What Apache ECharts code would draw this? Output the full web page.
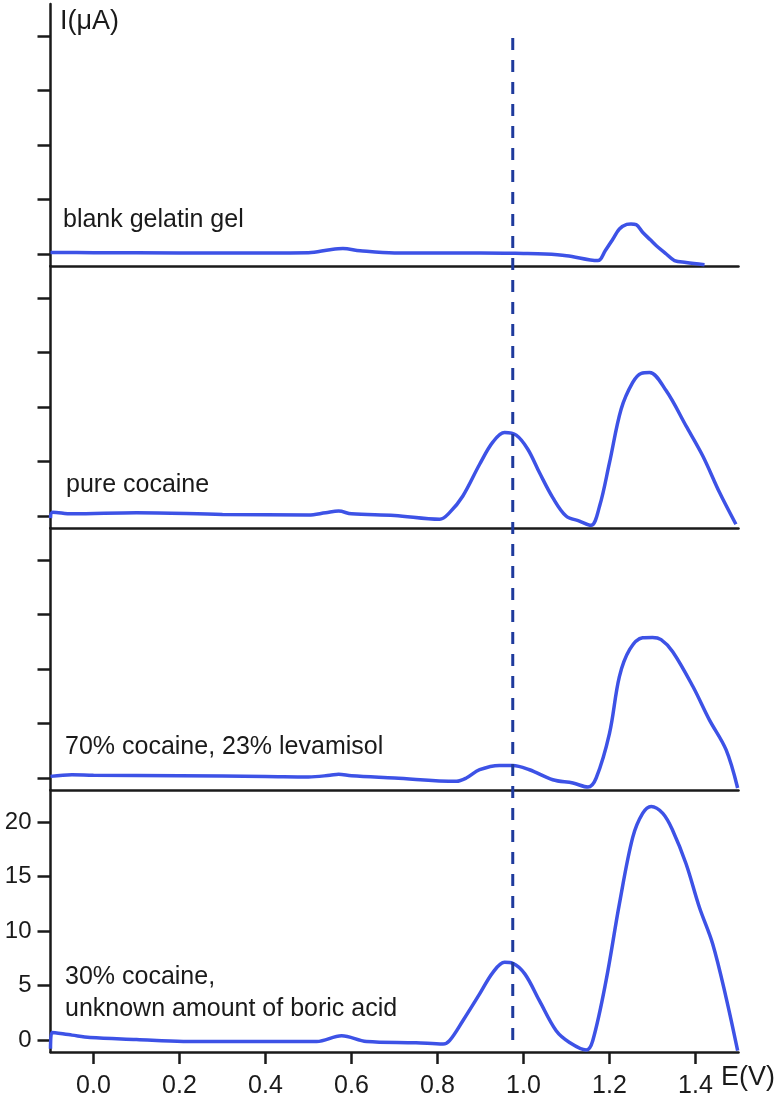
<!DOCTYPE html>
<html>
<head>
<meta charset="utf-8">
<script src="https://cdn.jsdelivr.net/npm/echarts@6/dist/echarts.min.js"></script>
<style>
html,body{margin:0;padding:0;background:#fff;}
#chart{width:784px;height:1105px;}
</style>
</head>
<body>
<div id="chart"></div>
<script>
// ---- data ----
var panelLabels = [["blank gelatin gel"], ["pure cocaine"], ["70% cocaine, 23% levamisol"], ["30% cocaine,", "unknown amount of boric acid"]];
var xTicks = [0.0, 0.2, 0.4, 0.6, 0.8, 1.0, 1.2, 1.4];
var yTicks = [0, 5, 10, 15, 20];

var blankE = [-0.1, 0.0, 0.2, 0.4, 0.5, 0.55, 0.58, 0.62, 0.7, 0.9, 1.0, 1.05, 1.1, 1.173, 1.19, 1.208, 1.223, 1.24, 1.25, 1.262, 1.277, 1.295, 1.309, 1.332, 1.351, 1.378, 1.421];
var blankI = [0.15, 0.12, 0.1, 0.1, 0.12, 0.4, 0.5, 0.3, 0.1, 0.1, 0.05, 0.0, -0.15, -0.6, 0.3, 1.38, 2.3, 2.72, 2.76, 2.7, 2.0, 1.3, 0.76, 0.0, -0.6, -0.77, -0.98];

var pureE = [-0.1, -0.095, -0.05, 0.1, 0.3, 0.5, 0.54, 0.57, 0.6, 0.7, 0.805, 0.828, 0.859, 0.898, 0.929, 0.956, 0.983, 1.010, 1.037, 1.068, 1.099, 1.130, 1.157, 1.177, 1.200, 1.227, 1.254, 1.274, 1.293, 1.332, 1.378, 1.417, 1.456, 1.494];
var pureI = [-0.2, 0.35, 0.2, 0.3, 0.15, 0.1, 0.3, 0.45, 0.2, 0.05, -0.3, 0.31, 1.84, 4.75, 6.8, 7.66, 7.42, 6.13, 3.99, 1.69, 0.0, -0.46, -0.85, 0.92, 4.9, 9.8, 12.26, 13.1, 13.18, 11.49, 8.27, 5.51, 2.15, -0.76];

var levE = [-0.1, -0.05, 0.0, 0.2, 0.4, 0.5, 0.55, 0.57, 0.6, 0.7, 0.844, 0.867, 0.898, 0.944, 0.975, 1.014, 1.068, 1.115, 1.150, 1.169, 1.200, 1.223, 1.247, 1.277, 1.300, 1.320, 1.347, 1.394, 1.432, 1.471, 1.498];
var levI = [0.15, 0.3, 0.25, 0.2, 0.15, 0.1, 0.25, 0.35, 0.2, 0.0, -0.3, 0.0, 0.76, 1.16, 1.16, 0.76, -0.16, -0.46, -0.83, 0.0, 4.1, 9.3, 11.8, 12.87, 12.9, 12.7, 11.6, 8.4, 5.36, 2.6, -0.92];

var boricE = [-0.1, -0.097, -0.05, -0.008, 0.1, 0.209, 0.4, 0.519, 0.577, 0.635, 0.75, 0.813, 0.828, 0.859, 0.898, 0.929, 0.956, 0.975, 1.003, 1.037, 1.076, 1.107, 1.146, 1.161, 1.192, 1.223, 1.254, 1.277, 1.297, 1.324, 1.347, 1.378, 1.409, 1.440, 1.471, 1.498];
var boricI = [-0.8, 0.7, 0.45, 0.24, 0.05, -0.13, -0.13, -0.13, 0.4, -0.13, -0.25, -0.37, -0.06, 1.77, 4.23, 6.21, 7.13, 7.04, 6.07, 3.61, 0.85, -0.22, -0.92, -0.06, 5.45, 12.5, 18.6, 20.8, 21.44, 20.8, 19.24, 16.18, 12.19, 8.82, 3.92, -0.98];

// dashed reference line (E position, and extent in stacked-panel units above bottom zero)
var dashE = 0.975;
var dashSpan = [0, 92.2];

// ---- layout ----
var FONT = "'Liberation Sans', Arial, Helvetica, sans-serif";
var INK = '#1a1a1a';
var CURVE = '#3d52e6';
var xMin = -0.1, xMax = 1.5;
var yMin = -1.1, yMax = 22.95;
var gridLeft = 50.5, gridRight = 45.5;
var panelTop = [4, 266, 528, 790];
var panelH = 262;

function zip(a, b) { return a.map(function (v, i) { return [v, b[i]]; }); }
var curves = [zip(blankE, blankI), zip(pureE, pureI), zip(levE, levI), zip(boricE, boricI)];

var grids = [], xAxes = [], yAxes = [], series = [];
for (var p = 0; p < 4; p++) {
  var last = (p === 3);
  grids.push({ left: gridLeft, right: gridRight, top: panelTop[p], height: panelH, containLabel: false });
  xAxes.push({
    type: 'value', gridIndex: p, min: xMin, max: xMax,
    splitLine: { show: false },
    axisLine: { show: true, onZero: false, lineStyle: { color: INK, width: 2.5 } },
    axisTick: { show: last, customValues: xTicks, length: 12, lineStyle: { color: INK, width: 2.5 } },
    axisLabel: { show: last, customValues: xTicks, margin: 22, color: INK, fontSize: 25, fontFamily: FONT,
      formatter: function (v) { return v.toFixed(1); } }
  });
  yAxes.push({
    type: 'value', gridIndex: p, min: yMin, max: yMax,
    splitLine: { show: false },
    axisLine: { show: true, onZero: false, lineStyle: { color: INK, width: 2.5 } },
    axisTick: { show: true, customValues: yTicks, length: 13, lineStyle: { color: INK, width: 2.5 } },
    axisLabel: { show: last, customValues: yTicks, margin: 19, color: INK, fontSize: 24, fontFamily: FONT }
  });
  series.push({
    type: 'line', xAxisIndex: p, yAxisIndex: p, data: curves[p],
    showSymbol: false, smooth: 0.35, silent: true, animation: false,
    lineStyle: { color: CURVE, width: 3.5 }
  });
}

// overlay grid spanning all panels for the dashed line
var overlayH = panelTop[3] + panelH - panelTop[0];
grids.push({ left: gridLeft, right: gridRight, top: panelTop[0], height: overlayH });
xAxes.push({ type: 'value', gridIndex: 4, min: xMin, max: xMax, show: false });
yAxes.push({ type: 'value', gridIndex: 4, min: yMin, max: yMin + (yMax - yMin) * overlayH / panelH, show: false });
series.push({
  type: 'line', xAxisIndex: 4, yAxisIndex: 4,
  data: [[dashE, dashSpan[0]], [dashE, dashSpan[1]]],
  showSymbol: false, silent: true, animation: false,
  lineStyle: { color: '#1e3a9c', width: 3, type: [12, 10] }
});

// text labels
var graphics = [
  { type: 'text', left: 60, top: 8, style: { text: 'I(μA)', fontSize: 27, fontFamily: FONT, fill: INK } },
  { type: 'text', left: 721, top: 1064, style: { text: 'E(V)', fontSize: 27, fontFamily: FONT, fill: INK } }
];
var labelTops = [[208], [473], [735], [965, 997]];
var labelLeft = [63, 66, 65, 65];
for (var q = 0; q < 4; q++) {
  for (var k = 0; k < panelLabels[q].length; k++) {
    graphics.push({ type: 'text', left: labelLeft[q], top: labelTops[q][k],
      style: { text: panelLabels[q][k], fontSize: 25, fontFamily: FONT, fill: INK } });
  }
}

var chart = echarts.init(document.getElementById('chart'), null, { renderer: 'canvas' });
chart.setOption({
  animation: false,
  backgroundColor: '#ffffff',
  grid: grids, xAxis: xAxes, yAxis: yAxes, series: series,
  graphic: graphics
});
</script>
</body>
</html>
